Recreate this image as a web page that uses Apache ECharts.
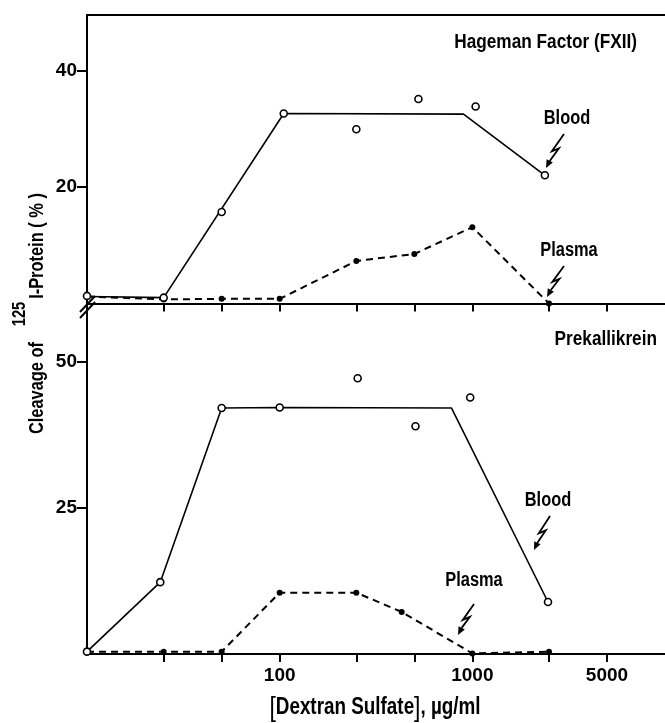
<!DOCTYPE html>
<html>
<head>
<meta charset="utf-8">
<script src="https://cdn.jsdelivr.net/npm/echarts@6/dist/echarts.min.js"></script>
<style>
  html, body { margin: 0; padding: 0; background: #fff; }
  #chart { width: 665px; height: 723px; }
</style>
</head>
<body>
<div id="chart"></div>
<script>
// dextran sulfate concentration (ug/ml)
const conc = [10, 25, 50, 100, 250, 500, 1000, 2500];

// Hageman factor (FXII) panel
const fxiiBloodX = [10, 25, 50, 105, 250, 525, 1040, 2380];
const fxiiBlood = [1.3, 1.0, 15.7, 32.6, 29.9, 35.1, 33.8, 22.0];
const fxiiBloodLineX = [10, 25, 105, 900, 2380];
const fxiiBloodLineY = [1.2, 1.0, 32.6, 32.5, 22.0];
const fxiiPlasma = [1.2, 0.7, 0.8, 0.8, 7.3, 8.5, 13.1, 0];

// Prekallikrein panel
const pkBloodX = [10, 24, 50, 100, 254, 507, 975, 2470];
const pkBlood = [0.4, 12.3, 42.1, 42.2, 47.2, 39.0, 43.9, 8.9];
const pkBloodLineX = [10, 24, 50, 100, 780, 2470];
const pkBloodLineY = [0.4, 12.3, 42.1, 42.2, 42.1, 8.9];
const pkPlasmaX = [10, 25, 50, 100, 250, 430, 1000, 2500];
const pkPlasma = [0.4, 0.4, 0.4, 10.5, 10.5, 7.2, 0.1, 0.4];

// ticks
const xTicks = [25, 50, 100, 250, 500, 1000, 2500, 5000];
const xLabels = [100, 1000, 5000];
const fxiiTicks = [20, 40];
const pkTicks = [25, 50];

const FONT = '"Liberation Sans", Arial, sans-serif';
const NARROW = 0.82; // squeeze graphic texts like a condensed face

const pairs = (xs, ys) => xs.map((x, i) => [x, ys[i]]);

function xAxisFor(grid, showLabel) {
  return {
    type: 'log',
    logBase: 10,
    gridIndex: grid,
    min: 10,
    max: 10000,
    axisLine: { show: true, lineStyle: { color: '#000', width: 2 } },
    axisTick: { show: true, customValues: xTicks, length: 8, lineStyle: { color: '#000', width: 2 } },
    axisLabel: {
      show: showLabel,
      customValues: xLabels,
      formatter: (v) => String(Math.round(v)),
      color: '#000',
      fontFamily: FONT,
      fontWeight: 'bold',
      fontSize: 19,
      margin: 12,
    },
    splitLine: { show: false },
    minorTick: { show: false },
  };
}

function yAxisFor(grid, max, ticks) {
  return {
    type: 'value',
    gridIndex: grid,
    min: 0,
    max: max,
    axisLine: { show: true, lineStyle: { color: '#000', width: 2 } },
    axisTick: { show: true, customValues: ticks, length: 10, lineStyle: { color: '#000', width: 2 } },
    axisLabel: {
      customValues: ticks,
      color: '#000',
      fontFamily: FONT,
      fontWeight: 'bold',
      fontSize: 19,
      margin: 10,
    },
    splitLine: { show: false },
  };
}

function bloodLine(xi, xs, ys) {
  return {
    type: 'line', xAxisIndex: xi, yAxisIndex: xi,
    data: pairs(xs, ys),
    symbol: 'none',
    lineStyle: { color: '#000', width: 1.6 },
    z: 2,
  };
}
function bloodPoints(xi, xs, ys) {
  return {
    type: 'scatter', xAxisIndex: xi, yAxisIndex: xi,
    data: pairs(xs, ys),
    symbol: 'circle',
    symbolSize: 7,
    itemStyle: { color: '#fff', borderColor: '#000', borderWidth: 1.6, opacity: 1 },
    z: 4,
  };
}
function plasmaLine(xi, xs, ys) {
  return {
    type: 'line', xAxisIndex: xi, yAxisIndex: xi,
    data: pairs(xs, ys),
    symbol: 'circle',
    symbolSize: 6,
    showSymbol: true,
    itemStyle: { color: '#000' },
    lineStyle: { color: '#000', width: 2, type: [7, 5] },
    z: 3,
  };
}

// lightning-bolt arrow from (sx,sy) to tip (ex,ey)
function bolt(sx, sy, ex, ey) {
  const dx = ex - sx, dy = ey - sy;
  const len = Math.sqrt(dx * dx + dy * dy);
  const ux = dx / len, uy = dy / len;
  const mx = sx + dx * 0.45, my = sy + dy * 0.45;
  const bx = ex - ux * 8, by = ey - uy * 8;
  const nx = -uy, ny = ux;
  return [
    {
      type: 'polyline',
      shape: { points: [[sx, sy], [mx - 4, my + 2], [mx + 3, my - 1], [bx, by]] },
      style: { stroke: '#000', lineWidth: 1.8, fill: null },
    },
    {
      type: 'polygon',
      shape: { points: [[ex, ey], [bx + nx * 3.5, by + ny * 3.5], [bx - nx * 3.5, by - ny * 3.5]] },
      style: { fill: '#000' },
    },
  ];
}

function label(text, x, y, size, align, rot) {
  return {
    type: 'text', x: x, y: y,
    scaleX: NARROW,
    rotation: rot || 0,
    style: {
      text: text, fill: '#000', fontFamily: FONT, fontWeight: 'bold', fontSize: size,
      align: align || 'center', verticalAlign: 'middle',
    },
  };
}

const UP = Math.PI / 2;

const chart = echarts.init(document.getElementById('chart'));
chart.setOption({
  animation: false,
  backgroundColor: '#fff',
  grid: [
    { left: 87, top: 15, width: 582, height: 288.5 },
    { left: 87, top: 303.5, width: 582, height: 350.5 },
  ],
  xAxis: [
    xAxisFor(0, false),
    xAxisFor(1, true),
    // top frame line of the upper panel
    {
      type: 'value', gridIndex: 0, position: 'top', min: 0, max: 1,
      axisLine: { show: true, lineStyle: { color: '#000', width: 2 } },
      axisTick: { show: false }, axisLabel: { show: false }, splitLine: { show: false },
    },
  ],
  yAxis: [
    yAxisFor(0, 49.5, fxiiTicks),
    yAxisFor(1, 60, pkTicks),
  ],
  series: [
    bloodLine(0, fxiiBloodLineX, fxiiBloodLineY),
    plasmaLine(0, conc, fxiiPlasma),
    bloodPoints(0, fxiiBloodX, fxiiBlood),
    bloodLine(1, pkBloodLineX, pkBloodLineY),
    plasmaLine(1, pkPlasmaX, pkPlasma),
    bloodPoints(1, pkBloodX, pkBlood),
  ],
  graphic: [
    label('Hageman Factor (FXII)', 637, 42, 21, 'right'),
    label('Blood', 567, 118, 20),
    label('Plasma', 569, 250, 20),
    label('Prekallikrein', 657, 339, 21, 'right'),
    label('Blood', 548, 500, 20),
    label('Plasma', 474, 580, 20),
    ...bolt(564, 134, 546, 168),
    ...bolt(564, 266, 547, 297),
    ...bolt(550, 516, 534, 550),
    ...bolt(474, 604, 458, 635),
    // axis break marks
    { type: 'line', shape: { x1: 80, y1: 312, x2: 95, y2: 296 }, style: { stroke: '#000', lineWidth: 2 } },
    { type: 'line', shape: { x1: 80, y1: 318, x2: 95, y2: 302 }, style: { stroke: '#000', lineWidth: 2 } },
    // y axis title
    label('Cleavage of', 37, 388, 20, 'center', UP),
    label('125', 20, 314, 18, 'center', UP),
    label('I-Protein ( % )', 37, 246, 20, 'center', UP),
    {
      type: 'text', x: 375, y: 708,
      scaleX: NARROW,
      style: {
        text: '{br|[}{t|Dextran Sulfate}{br|]}{t|, µg/ml}',
        fill: '#000', align: 'center', verticalAlign: 'middle',
        rich: {
          t: { fontFamily: FONT, fontWeight: 'bold', fontSize: 23, fill: '#000' },
          br: { fontFamily: FONT, fontWeight: 'normal', fontSize: 28, fill: '#000' },
        },
      },
    },
  ],
});
</script>
</body>
</html>
